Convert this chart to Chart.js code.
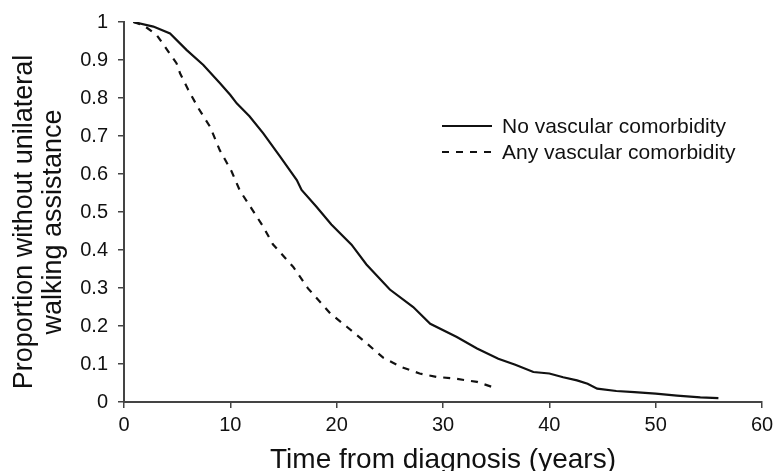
<!DOCTYPE html>
<html>
<head>
<meta charset="utf-8">
<script src="https://cdn.jsdelivr.net/npm/chart.js@4.4.1/dist/chart.umd.min.js"></script>
<style>
  html, body { margin: 0; padding: 0; background: #fff; }
  #wrap { width: 780px; height: 471px; }
</style>
</head>
<body>
<div id="wrap"><canvas id="kmChart" width="780" height="471"></canvas></div>
<script>
// Tijdstippen (jaren) en aandeel zonder loophulp
const tijdGeen = [0.88, 2.76, 4.33, 5.9, 7.46, 9.03, 10.0, 10.6, 11.8, 13.1, 14.7, 16.25, 16.7, 18.1, 19.5, 21.4, 22.8, 25.0, 27.2, 28.8, 31.3, 33.2, 35.2, 36.8, 38.5, 40.0, 41.3, 42.6, 43.6, 44.5, 46.3, 48.0, 50.0, 52.0, 54.2, 55.9];
const aandeelGeen = [1.0, 0.988, 0.97, 0.926, 0.887, 0.839, 0.808, 0.786, 0.752, 0.707, 0.645, 0.584, 0.558, 0.514, 0.467, 0.414, 0.362, 0.296, 0.25, 0.206, 0.171, 0.141, 0.114, 0.098, 0.079, 0.075, 0.065, 0.057, 0.048, 0.035, 0.029, 0.026, 0.022, 0.017, 0.012, 0.01];

const tijdVasc = [0.88, 1.8, 3.07, 4.17, 4.95, 5.27, 6.05, 7.0, 8.1, 9.0, 10.1, 10.9, 12.0, 13.1, 14.0, 15.9, 17.3, 19.4, 20.95, 22.5, 24.4, 26.1, 27.8, 29.4, 31.0, 33.2, 35.1];
const aandeelVasc = [1.0, 0.992, 0.966, 0.922, 0.891, 0.865, 0.821, 0.773, 0.724, 0.663, 0.608, 0.556, 0.509, 0.461, 0.415, 0.356, 0.299, 0.233, 0.198, 0.162, 0.116, 0.092, 0.075, 0.066, 0.062, 0.053, 0.035];

const reeksNamen = ["No vascular comorbidity", "Any vascular comorbidity"];
const xTicks = [0, 10, 20, 30, 40, 50, 60];
const yTicks = [0, 0.1, 0.2, 0.3, 0.4, 0.5, 0.6, 0.7, 0.8, 0.9, 1];
const xTitel = "Time from diagnosis (years)";
const yTitel = ["Proportion without unilateral", "walking assistance"];

const FONT = "'Liberation Sans', Arial, sans-serif";

function maakPunten(xs, ys) {
  return xs.map((x, i) => ({ x, y: ys[i] }));
}

// Legenda binnen het plotvlak, zoals in het origineel
const legendaPlugin = {
  id: "legendaBinnen",
  afterDraw(chart) {
    const ctx = chart.ctx;
    const x0 = 442, x1 = 492, tx = 502;
    const rijen = [126, 152];
    ctx.save();
    ctx.font = "21px " + FONT;
    ctx.fillStyle = "#111";
    ctx.textBaseline = "middle";
    chart.data.datasets.forEach((ds, i) => {
      const y = rijen[i];
      ctx.beginPath();
      ctx.strokeStyle = ds.borderColor;
      ctx.lineWidth = 2;
      ctx.setLineDash(ds.borderDash || []);
      ctx.moveTo(x0, y);
      ctx.lineTo(x1, y);
      ctx.stroke();
      ctx.setLineDash([]);
      ctx.fillText(ds.label, tx, y + 1);
    });
    ctx.restore();
  },
};

// Y-as titel: twee regels, iets onder het midden van het plotvlak
const yTitelPlugin = {
  id: "yTitel",
  afterDraw(chart) {
    const ctx = chart.ctx;
    const midden = 222;
    const kolommen = [25, 54];
    ctx.save();
    ctx.font = "27px " + FONT;
    ctx.fillStyle = "#111";
    ctx.textAlign = "center";
    ctx.textBaseline = "middle";
    yTitel.forEach((regel, i) => {
      ctx.save();
      ctx.translate(kolommen[i], midden);
      ctx.rotate(-Math.PI / 2);
      ctx.fillText(regel, 0, 0);
      ctx.restore();
    });
    ctx.restore();
  },
};

const ctx = document.getElementById("kmChart").getContext("2d");
new Chart(ctx, {
  type: "line",
  data: {
    datasets: [
      {
        label: reeksNamen[0],
        data: maakPunten(tijdGeen, aandeelGeen),
        borderColor: "#111",
        borderWidth: 2.2,
        pointRadius: 0,
        tension: 0,
        fill: false,
      },
      {
        label: reeksNamen[1],
        data: maakPunten(tijdVasc, aandeelVasc),
        borderColor: "#111",
        borderWidth: 2.2,
        borderDash: [7, 7],
        pointRadius: 0,
        tension: 0,
        fill: false,
      },
    ],
  },
  options: {
    responsive: false,
    animation: false,
    layout: { padding: { top: 22, right: 18, left: 0, bottom: 0 } },
    plugins: {
      legend: { display: false },
      tooltip: { enabled: false },
    },
    scales: {
      x: {
        type: "linear",
        min: 0,
        max: 60,
        afterBuildTicks: (s) => { s.ticks = xTicks.map((v) => ({ value: v })); },
        afterFit: (s) => { s.height = 69; },
        border: { display: true, color: "#444", width: 2 },
        grid: { drawOnChartArea: false, drawTicks: true, tickLength: 6, color: "#444", lineWidth: 1.5 },
        ticks: { color: "#111", font: { family: FONT, size: 20 }, padding: 5, maxRotation: 0 },
        title: {
          display: true,
          text: xTitel,
          color: "#111",
          font: { family: FONT, size: 28, lineHeight: 1 },
          padding: { top: 0, bottom: -3 },
        },
      },
      y: {
        type: "linear",
        min: 0,
        max: 1,
        afterBuildTicks: (s) => { s.ticks = yTicks.map((v) => ({ value: v })); },
        afterFit: (s) => { s.width = 124; },
        border: { display: true, color: "#444", width: 2 },
        grid: { drawOnChartArea: false, drawTicks: true, tickLength: 6, color: "#444", lineWidth: 1.5 },
        ticks: {
          color: "#111",
          font: { family: FONT, size: 20 },
          padding: 10,
          callback: (v) => String(v),
        },
        title: { display: false },
      },
    },
  },
  plugins: [legendaPlugin, yTitelPlugin],
});
</script>
</body>
</html>
